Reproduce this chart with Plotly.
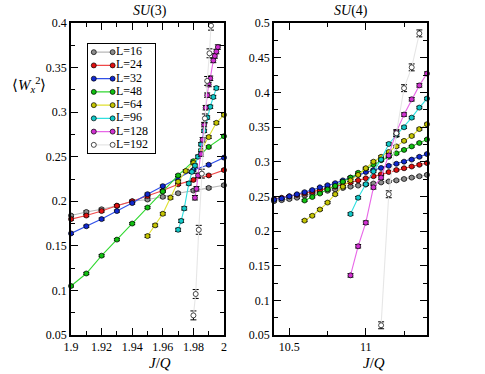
import plotly.graph_objects as go

# ---- data: SU(3), left panel ----
J3 = [1.90, 1.91, 1.92, 1.93, 1.94, 1.95, 1.96, 1.97, 1.98, 1.99, 2.00]
J3_64 = [1.950, 1.955, 1.960, 1.965, 1.970, 1.975, 1.980, 1.985, 1.990, 1.995, 2.000]
J3_96 = [1.970, 1.972, 1.974, 1.977, 1.979, 1.981, 1.983, 1.985, 1.987, 1.989, 1.991, 1.993, 1.995]
J3_128 = [1.981, 1.982, 1.983, 1.985, 1.986, 1.987, 1.988, 1.989, 1.990, 1.991, 1.993, 1.994, 1.995, 1.996]
J3_192 = [1.980, 1.9815, 1.9835, 1.9855, 1.9875, 1.989, 1.9905, 1.9915]

W3_16 = [0.184, 0.188, 0.191, 0.195, 0.200, 0.202, 0.205, 0.209, 0.212, 0.215, 0.218]
W3_24 = [0.180, 0.184, 0.189, 0.195, 0.200, 0.206, 0.212, 0.219, 0.224, 0.229, 0.235]
W3_32 = [0.164, 0.172, 0.180, 0.189, 0.198, 0.208, 0.217, 0.226, 0.235, 0.241, 0.249]
W3_48 = [0.105, 0.119, 0.139, 0.157, 0.175, 0.193, 0.211, 0.229, 0.245, 0.261, 0.273]
W3_64 = [0.161, 0.173, 0.186, 0.204, 0.222, 0.234, 0.243, 0.257, 0.272, 0.288, 0.297]
W3_96 = [0.168, 0.178, 0.192, 0.220, 0.233, 0.240, 0.250, 0.264, 0.279, 0.294, 0.306, 0.317, 0.327]
W3_128 = [0.204, 0.214, 0.229, 0.253, 0.269, 0.286, 0.305, 0.319, 0.331, 0.338, 0.358, 0.363, 0.368, 0.373]
W3_192 = [0.072, 0.096, 0.168, 0.231, 0.293, 0.335, 0.366, 0.397]

# ---- data: SU(4), right panel ----
J4 = [10.40, 10.45, 10.50, 10.55, 10.60, 10.65, 10.70, 10.75, 10.80, 10.85, 10.90,
      10.95, 11.00, 11.05, 11.10, 11.15, 11.20, 11.25, 11.30, 11.35, 11.40]
J4_mid = J4[4:]
J4_big = J4[10:]
J4_192 = [11.10, 11.15, 11.20, 11.25, 11.30, 11.35]

W4_16 = [0.243, 0.2445, 0.246, 0.248, 0.251, 0.254, 0.256, 0.258, 0.260, 0.262, 0.264,
         0.2655, 0.267, 0.2685, 0.270, 0.2715, 0.273, 0.275, 0.277, 0.279, 0.281]
W4_24 = [0.246, 0.248, 0.250, 0.252, 0.254, 0.2565, 0.259, 0.2615, 0.264, 0.267, 0.270,
         0.273, 0.276, 0.279, 0.282, 0.285, 0.288, 0.2905, 0.293, 0.2955, 0.298]
W4_32 = [0.245, 0.247, 0.250, 0.253, 0.256, 0.259, 0.263, 0.266, 0.269, 0.273, 0.277,
         0.281, 0.285, 0.288, 0.291, 0.294, 0.297, 0.300, 0.303, 0.307, 0.311]
W4_48 = [0.244, 0.249, 0.254, 0.260, 0.265, 0.271, 0.277, 0.284, 0.290,
         0.296, 0.302, 0.307, 0.312, 0.317, 0.322, 0.327, 0.332]
W4_64 = [0.215, 0.222, 0.231, 0.241, 0.253, 0.264, 0.273, 0.281, 0.2905,
         0.300, 0.307, 0.314, 0.322, 0.330, 0.337, 0.347, 0.354]
W4_96 = [0.2245, 0.248, 0.2674, 0.286, 0.303, 0.3255, 0.338, 0.3496, 0.3635, 0.378, 0.391]
W4_128 = [0.136, 0.178, 0.212, 0.263, 0.277, 0.309, 0.343, 0.368, 0.390, 0.410, 0.427]
W4_192 = [0.064, 0.253, 0.341, 0.406, 0.436, 0.485]

LABELS = ['L=16', 'L=24', 'L=32', 'L=48', 'L=64', 'L=96', 'L=128', 'L=192']
ERR = [0.0012, 0.0012, 0.0012, 0.0012, 0.0015, 0.0018, 0.0025, 0.005]

MARKER_COLORS = ['#8c8c8c', '#e01010', '#1028d0', '#10c010', '#c4c400', '#10c8c8', '#d030d0', '#ffffff']
LINE_COLORS = ['#b8b8b8', '#f04848', '#3050e8', '#30d830', '#e0e030', '#30e0e0', '#e868e8', '#e6e6e6']

left = [(J3, W3_16), (J3, W3_24), (J3, W3_32), (J3, W3_48),
        (J3_64, W3_64), (J3_96, W3_96), (J3_128, W3_128), (J3_192, W3_192)]
right = [(J4, W4_16), (J4, W4_24), (J4, W4_32), (J4_mid, W4_48),
         (J4_mid, W4_64), (J4_big, W4_96), (J4_big, W4_128), (J4_192, W4_192)]

FONT = 'Liberation Serif'
fig = go.Figure()


def add_series(x, y, i, xa, ya):
    fig.add_trace(go.Scatter(
        x=x, y=y, mode='lines+markers', xaxis=xa, yaxis=ya, showlegend=False,
        cliponaxis=False, name=LABELS[i],
        line=dict(color=LINE_COLORS[i], width=1.1),
        marker=dict(size=5, color=MARKER_COLORS[i], line=dict(color='black', width=0.7)),
        error_y=dict(type='constant', value=ERR[i], color='black', thickness=1, width=3),
    ))


for i, (x, y) in enumerate(left):
    add_series(x, y, i, 'x', 'y')
for i, (x, y) in enumerate(right):
    add_series(x, y, i, 'x2', 'y2')

# legend drawn on its own small axis pair
for i, lab in enumerate(LABELS):
    fig.add_trace(go.Scatter(
        x=[0.09, 0.37], y=[i + 1, i + 1], mode='lines+markers', xaxis='x3', yaxis='y3',
        showlegend=False, hoverinfo='skip',
        line=dict(color=LINE_COLORS[i], width=1.1),
        marker=dict(size=5, color=MARKER_COLORS[i], line=dict(color='black', width=0.7)),
    ))
fig.add_trace(go.Scatter(
    x=[0.42] * len(LABELS), y=list(range(1, len(LABELS) + 1)), text=LABELS,
    mode='text', textposition='middle right', xaxis='x3', yaxis='y3', showlegend=False,
    textfont=dict(family=FONT, size=12, color='black'), hoverinfo='skip',
))

tickfont = dict(family=FONT, size=12, color='black')
base = dict(showline=True, linecolor='black', linewidth=1.5, mirror='allticks',
            ticks='inside', ticklen=7, tickwidth=1.2, tickcolor='black',
            showgrid=False, zeroline=False, tickfont=tickfont)
minor = dict(ticks='inside', ticklen=4, tickcolor='black', tickwidth=1)


def note(text, x, y, size):
    return dict(text=text, x=x, y=y, xref='paper', yref='paper', xanchor='center',
                yanchor='middle', showarrow=False, font=dict(family=FONT, size=size, color='black'))


fig.update_layout(
    width=485, height=374,
    margin=dict(l=71, r=58, t=23, b=39),
    paper_bgcolor='white', plot_bgcolor='white',
    font=dict(family=FONT, color='black'),
    xaxis=dict(base, domain=[0, 0.4298], range=[1.9, 2.0], tick0=1.9, dtick=0.02,
               minor=dict(minor, dtick=0.01), anchor='y'),
    yaxis=dict(base, domain=[0, 1], range=[0.05, 0.4], tick0=0.05, dtick=0.05,
               minor=dict(minor, dtick=0.025), anchor='x'),
    xaxis2=dict(base, domain=[0.5702, 1], range=[10.4, 11.4], tick0=10.5, dtick=0.5,
                minor=dict(minor, dtick=0.25), anchor='y2'),
    yaxis2=dict(base, domain=[0, 1], range=[0.05, 0.5], tick0=0.05, dtick=0.05,
                minor=dict(minor, dtick=0.025), anchor='x2'),
    xaxis3=dict(domain=[0.047, 0.236], range=[0, 1], anchor='y3', showline=True, mirror=True,
                linecolor='black', linewidth=1, showticklabels=False, ticks='', showgrid=False,
                zeroline=False, fixedrange=True),
    yaxis3=dict(domain=[0.584, 0.932], range=[8.6, 0.4], anchor='x3', showline=True, mirror=True,
                linecolor='black', linewidth=1, showticklabels=False, ticks='', showgrid=False,
                zeroline=False, fixedrange=True),
    annotations=[
        note('<i>SU</i>(3)', 0.222, 1.038, 14),
        note('<i>SU</i>(4)', 0.787, 1.038, 14),
        note('⟨<i>W</i><sub><i>x</i></sub><sup>2</sup>⟩', -0.117, 0.80, 15),
        note('<i>J</i>/<i>Q</i>', 0.25, -0.09, 15),
        note('<i>J</i>/<i>Q</i>', 0.851, -0.09, 15),
    ],
)

# drop the browser's default 8px body margin so the figure sits at the page corner
fig.write_html("out.html", config={'displayModeBar': False},
               post_script="document.body.style.margin='0';")
